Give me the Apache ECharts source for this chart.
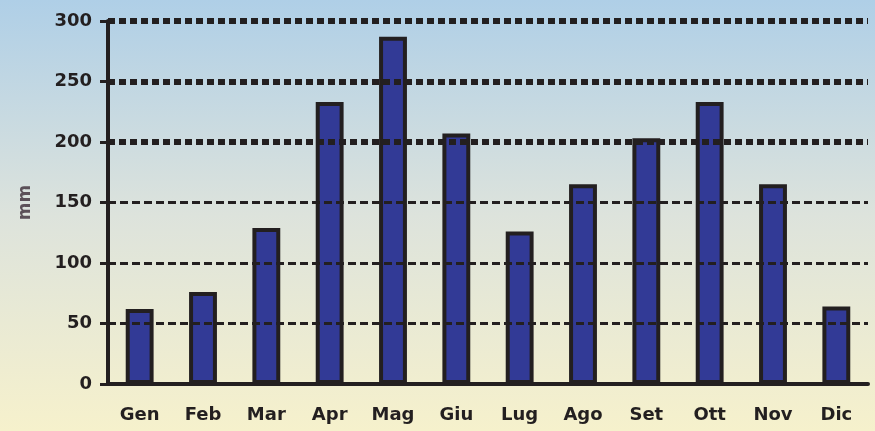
<!DOCTYPE html>
<html>
<head>
<meta charset="utf-8">
<script src="https://cdn.jsdelivr.net/npm/echarts@6/dist/echarts.min.js"></script>
<style>
  html, body { margin: 0; padding: 0; }
  #chart { width: 875px; height: 431px; }
</style>
</head>
<body>
<div id="chart"></div>
<script>
// Monthly precipitation (mm)
const months = ['Gen', 'Feb', 'Mar', 'Apr', 'Mag', 'Giu', 'Lug', 'Ago', 'Set', 'Ott', 'Nov', 'Dic'];
const rainfall = [62, 76, 129, 233, 287, 207, 126, 165, 203, 233, 165, 64];
const thinGridValues = [50, 100, 150];
const thickGridValues = [200, 250, 300];

const ink = '#231f20';
const fontFamily = '"DejaVu Sans", Verdana, sans-serif';

const chart = echarts.init(document.getElementById('chart'));

const gridLine = (v, width, dash) => ({
  yAxis: v,
  lineStyle: { color: ink, width: width, type: dash }
});

chart.setOption({
  backgroundColor: new echarts.graphic.LinearGradient(0, 0, 0, 1, [
    { offset: 0, color: '#afcfe7' },
    { offset: 0.5, color: '#dde3dc' },
    { offset: 1, color: '#f6f1cc' }
  ]),
  animation: false,
  grid: { left: 108, right: 7, top: 21, bottom: 47 },
  xAxis: {
    type: 'category',
    data: months,
    axisLine: { lineStyle: { color: ink, width: 4 } },
    axisTick: { lineStyle: { color: ink, width: 3 }, length: 7 },
    axisLabel: { fontFamily, fontWeight: 'bold', color: ink, fontSize: 18, margin: 22 }
  },
  yAxis: {
    type: 'value',
    min: 0,
    max: 300,
    interval: 50,
    name: 'mm',
    nameLocation: 'middle',
    nameGap: 74,
    nameRotate: 90,
    nameTextStyle: { fontFamily, fontWeight: 'bold', fontSize: 17, color: '#5b5058' },
    axisLine: { show: true, lineStyle: { color: ink, width: 4 } },
    axisTick: { show: true, length: 8, lineStyle: { color: ink, width: 3 } },
    axisLabel: { fontFamily, fontWeight: 'bold', color: ink, fontSize: 18, margin: 16 },
    splitLine: { show: false }
  },
  series: [
    {
      type: 'line',
      data: [],
      silent: true,
      z: 1,
      markLine: {
        silent: true,
        symbol: ['none', 'none'],
        label: { show: false },
        emphasis: { disabled: true },
        data: thinGridValues.map(v => gridLine(v, 3, [8, 4]))
          .concat(thickGridValues.map(v => gridLine(v, 6, [7, 4])))
      }
    },
    {
      type: 'bar',
      data: rainfall,
      z: 3,
      barWidth: '44%',
      itemStyle: { color: '#323a96', borderColor: ink, borderWidth: 4 }
    }
  ]
});
</script>
</body>
</html>
